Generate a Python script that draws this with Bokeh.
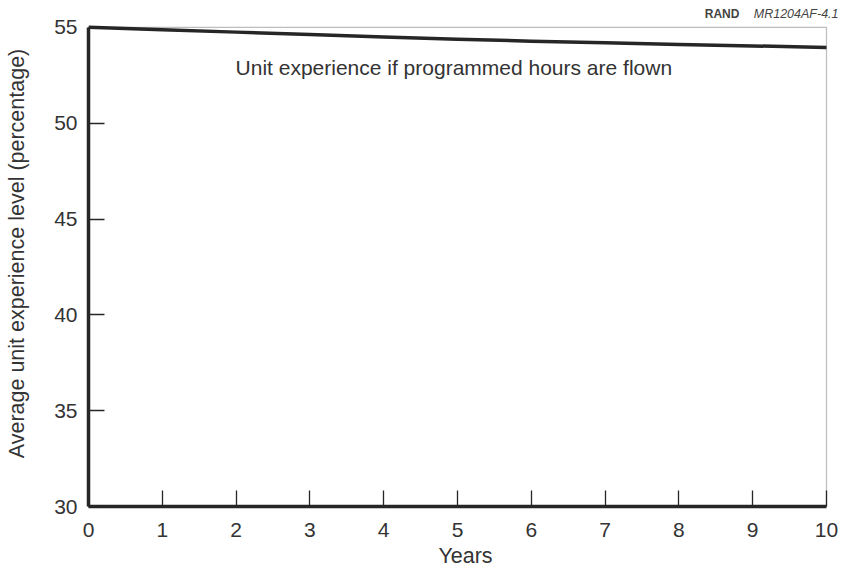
from bokeh.plotting import figure
from bokeh.models import FixedTicker, Label, Range1d, BoxAnnotation
from bokeh.embed import file_html
from bokeh.resources import INLINE

years = [0, 1, 2, 3, 4, 5, 6, 7, 8, 9, 10]
experience = [55.0, 54.87, 54.75, 54.62, 54.5, 54.38, 54.28, 54.19, 54.1, 54.03, 53.95]
x_ticks = [0, 1, 2, 3, 4, 5, 6, 7, 8, 9, 10]
y_ticks = [30, 35, 40, 45, 50, 55]

FONT = "Liberation Sans"
TXT = "#333333"
LINE = "#262626"

p = figure(width=844, height=570, output_backend="svg", toolbar_location=None,
           x_range=Range1d(0, 10.217), y_range=Range1d(30, 56.4),
           min_border_left=88, min_border_right=2, min_border_top=0, min_border_bottom=62)
p.background_fill_color = "white"
p.border_fill_color = "white"
p.outline_line_color = None
p.xgrid.visible = False
p.ygrid.visible = False

# plot box (top and right edges)
p.add_layout(BoxAnnotation(left=0, right=10, bottom=30, top=55, fill_alpha=0,
                           line_color=LINE, line_width=1.2, level="underlay"))

p.line(years, experience, line_width=3.5, line_color=LINE, line_join="round")

for ax, ticks, bnds in ((p.xaxis[0], x_ticks, (0, 10)), (p.yaxis[0], y_ticks, (30, 55))):
    ax.ticker = FixedTicker(ticks=ticks)
    ax.bounds = bnds
    ax.axis_line_width = 3.5
    ax.axis_line_color = LINE
    ax.major_tick_in = 16
    ax.major_tick_out = 0
    ax.major_tick_line_color = LINE
    ax.major_tick_line_width = 1.3
    ax.minor_tick_line_color = None
    ax.major_label_text_font = FONT
    ax.major_label_text_font_size = "21px"
    ax.major_label_text_color = TXT
    ax.axis_label_text_font = FONT
    ax.axis_label_text_font_size = "21.5px"
    ax.axis_label_text_font_style = "normal"
    ax.axis_label_text_color = TXT

p.xaxis.axis_label = "Years"
p.xaxis.major_label_standoff = 16
p.xaxis.axis_label_standoff = 4
p.yaxis.axis_label = "Average unit experience level (percentage)"
p.yaxis.major_label_standoff = 11
p.yaxis.axis_label_standoff = 22

p.add_layout(Label(x=4.95, y=52.92, text="Unit experience if programmed hours are flown",
                   text_font=FONT, text_font_size="21px", text_color=TXT,
                   text_align="center", text_baseline="middle"))
p.add_layout(Label(x=10.163, y=55.72, text="MR1204AF-4.1",
                   text_font=FONT, text_font_size="12.5px", text_font_style="italic",
                   text_color="#444444", text_align="right", text_baseline="middle"))
p.add_layout(Label(x=8.82, y=55.72, text="RAND",
                   text_font=FONT, text_font_size="12px", text_font_style="bold",
                   text_color="#444444", text_align="right", text_baseline="middle"))

open("out.html", "w").write(file_html(p, INLINE))
